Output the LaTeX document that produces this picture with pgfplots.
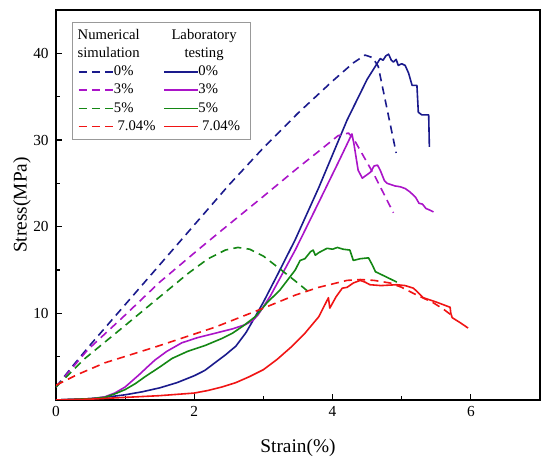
\documentclass[border=0pt]{standalone}
\usepackage{fontspec}
\setmainfont{Liberation Serif}
\usepackage{pgfplots}
\pgfplotsset{compat=1.18}
\definecolor{cnavy}{RGB}{26,26,140}
\definecolor{cpurp}{RGB}{170,20,200}
\definecolor{cgreen}{RGB}{20,135,20}
\definecolor{cred}{RGB}{240,20,20}
\newcommand{\dashs}[1]{\tikz[baseline=-0.55ex]\draw[#1, line width=1.2pt, dash pattern=on 6pt off 4pt] (0pt,0pt)--(26pt,0pt);}
\newcommand{\sol}[1]{\tikz[baseline=-0.55ex]\draw[#1, line width=1.2pt] (0pt,0pt)--(25pt,0pt);}
\begin{document}
\begin{tikzpicture}
\begin{axis}[
  scale only axis, width=363pt, height=292.5pt,
  xmin=0, xmax=7, ymin=0, ymax=45,
  xtick={0,2,4,6}, minor xtick={1,3,5},
  ytick={10,20,30,40}, minor ytick={5,15,25,35},
  xtick pos=bottom, ytick pos=left,
  tick align=inside,
  major tick length=4.5pt, minor tick length=3pt,
  tick style={black, line width=0.8pt},
  axis line style={line width=1pt},
  /pgf/number format/assume math mode=true,
  ticklabel style={font=\fontsize{11.5}{13}\selectfont},
  xticklabel style={yshift=-1.5pt},
  yticklabel style={xshift=-2pt},
  xlabel={Strain(\%)}, ylabel={Stress(MPa)},
  label style={font=\fontsize{14.5}{16}\selectfont},
  xlabel style={at={(axis description cs:0.5,-0.123)}, anchor=center},
  ylabel style={at={(axis description cs:-0.0703,0.5)}, anchor=center},
  every axis plot/.append style={line width=1.2pt, line join=round},
  num/.style={dash pattern=on 6pt off 4pt},
]
% Numerical 0%
\addplot[cnavy, num] coordinates {(0,1.5) (0.25,4.0) (0.5,6.4) (1,11.0) (1.5,15.6) (2,20.2) (2.5,24.8) (3,29.1) (3.5,33.1) (4,36.8) (4.3,38.9) (4.47,39.8) (4.58,39.5) (4.66,38.5) (4.92,28.5)};
% Lab 0%
\addplot[cnavy] coordinates {(0,0) (0.5,0.15) (0.75,0.35) (1,0.6) (1.25,0.95) (1.5,1.4) (1.75,2.0) (2,2.8) (2.15,3.4) (2.3,4.3) (2.45,5.2) (2.6,6.2) (2.75,7.8) (2.88,9.6) (3.0,11.3) (3.2,14.4) (3.46,18.5) (3.8,24.5) (4.21,32.3) (4.5,37) (4.65,38.9) (4.69,39.4) (4.73,39.2) (4.77,39.7) (4.81,39.9) (4.85,39.2) (4.88,39.0) (4.92,39.3) (4.95,38.6) (5.0,38.8) (5.05,38.6) (5.1,37.7) (5.15,36.3) (5.22,36.3) (5.24,33.2) (5.29,32.9) (5.39,32.9) (5.4,29.2)};
% Numerical 3%
\addplot[cpurp, num] coordinates {(0,1.5) (0.46,5.8) (1,9.8) (1.5,13.6) (2.08,17.5) (2.4,19.6) (3,23.5) (3.5,26.8) (3.8,28.7) (4.08,30.5) (4.23,30.8) (4.3,30.2) (4.4,28.8) (4.62,25.7) (4.88,21.6)};
% Lab 3%
\addplot[cpurp] coordinates {(0,0) (0.5,0.15) (0.7,0.35) (0.85,0.8) (1.0,1.5) (1.1,2.2) (1.2,2.9) (1.32,3.8) (1.43,4.6) (1.6,5.6) (1.82,6.6) (2.05,7.2) (2.3,7.7) (2.55,8.2) (2.74,8.7) (2.85,9.2) (2.92,9.8) (3.1,12.0) (3.46,17.3) (3.8,22.8) (4.1,27.7) (4.28,30.7) (4.31,29.5) (4.37,26.5) (4.43,25.6) (4.5,26.0) (4.55,26.3) (4.6,27.0) (4.65,27.1) (4.69,26.5) (4.75,25.3) (4.79,25.0) (4.9,24.7) (4.98,24.6) (5.05,24.4) (5.12,24.0) (5.2,23.4) (5.25,22.7) (5.3,22.6) (5.35,22.1) (5.41,21.9) (5.46,21.7)};
% Numerical 5%
\addplot[cgreen, num] coordinates {(0,1.5) (0.42,4.8) (1,8.6) (1.5,11.9) (1.91,14.6) (2.2,16.3) (2.45,17.3) (2.63,17.6) (2.8,17.4) (3.0,16.6) (3.21,15.3) (3.45,13.8) (3.68,12.3)};
% Lab 5%
\addplot[cgreen] coordinates {(0,0) (0.5,0.15) (0.7,0.3) (0.85,0.7) (1.0,1.2) (1.15,1.9) (1.29,2.7) (1.5,3.8) (1.68,4.8) (1.9,5.6) (2.16,6.3) (2.4,7.1) (2.55,7.7) (2.7,8.5) (2.88,9.6) (3.05,11.2) (3.24,12.7) (3.46,15.0) (3.53,16.1) (3.6,16.3) (3.68,17.1) (3.72,17.3) (3.75,16.7) (3.8,17.0) (3.92,17.5) (4.0,17.4) (4.07,17.6) (4.15,17.4) (4.25,17.3) (4.3,16.1) (4.4,16.3) (4.52,16.4) (4.58,15.5) (4.62,14.8) (4.75,14.3) (4.93,13.6)};
% Numerical 7.04%
\addplot[cred, num] coordinates {(0,1.7) (0.3,2.9) (0.71,4.3) (1.43,6.1) (2.3,8.4) (3.0,10.6) (3.46,12.1) (3.8,13.0) (4.21,13.8) (4.4,13.9) (4.6,13.8) (4.83,13.5) (5.0,13.0) (5.17,12.3) (5.46,11.2) (5.6,10.5) (5.75,9.6)};
% Lab 7.04%
\addplot[cred] coordinates {(0,0) (0.5,0.1) (1,0.3) (1.5,0.5) (2.0,0.8) (2.2,1.1) (2.4,1.5) (2.6,2.0) (2.8,2.7) (3.0,3.5) (3.2,4.7) (3.4,6.1) (3.6,7.7) (3.8,9.6) (3.94,11.8) (3.96,10.6) (4.05,11.9) (4.14,12.9) (4.21,13.0) (4.3,13.5) (4.4,13.8) (4.47,13.6) (4.54,13.3) (4.7,13.2) (4.93,13.3) (5.05,13.2) (5.17,12.9) (5.25,12.3) (5.31,11.8) (5.5,11.3) (5.7,10.7) (5.71,10.0) (5.73,9.5) (5.85,8.9) (5.96,8.3)};
\node[draw=gray!80, line width=0.6pt, fill=white, anchor=north west, inner xsep=4pt, inner ysep=3pt,
      font=\fontsize{11}{12.2}\selectfont] at (rel axis cs:0.033,0.969) {%
  \renewcommand{\arraystretch}{1.12}%
  \begin{tabular}{@{}l@{\hspace{6pt}}l@{}}
  Numerical & \multicolumn{1}{c}{Laboratory}\\
  simulation & \multicolumn{1}{c}{testing}\\
  \dashs{cnavy}0\% & \sol{cnavy}0\%\\
  \dashs{cpurp}3\% & \sol{cpurp}3\%\\
  \dashs{cgreen}5\% & \sol{cgreen}5\%\\
  \dashs{cred} 7.04\% & \sol{cred} 7.04\%
  \end{tabular}};
\end{axis}
\pgfresetboundingbox
\path ([shift={(-42pt,-48.75pt)}]current axis.south west) rectangle ([shift={(7.5pt,7.5pt)}]current axis.north east);
\end{tikzpicture}
\end{document}
